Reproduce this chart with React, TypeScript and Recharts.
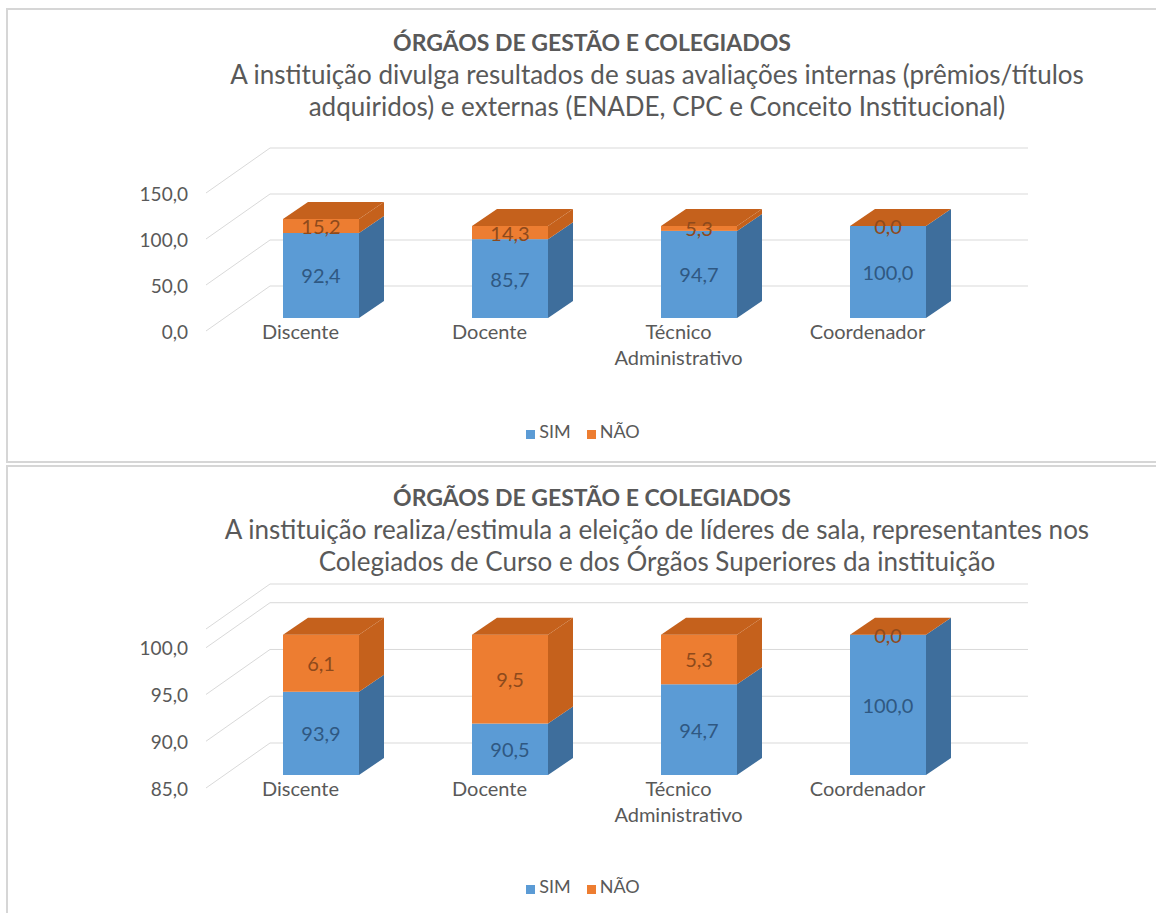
import React from 'react';
import { BarChart, Bar, XAxis, YAxis, Legend, CartesianGrid } from 'recharts';

const categories = ['Discente', 'Docente', 'Técnico Administrativo', 'Coordenador'];
const seriesNames = ['SIM', 'NÃO'];

const chart1Sim = [92.4, 85.7, 94.7, 100.0];
const chart1Nao = [15.2, 14.3, 5.3, 0.0];
const chart1Ticks = [0, 50, 100, 150];
const chart1Domain = [0, 150];

const chart2Sim = [93.9, 90.5, 94.7, 100.0];
const chart2Nao = [6.1, 9.5, 5.3, 0.0];
const chart2Ticks = [85, 90, 95, 100];
const chart2Domain = [85, 102];

const titleText = 'ÓRGÃOS DE GESTÃO E COLEGIADOS';
const subtitle1 = [
  'A instituição divulga resultados de suas avaliações internas (prêmios/títulos',
  'adquiridos) e externas (ENADE, CPC e Conceito Institucional)',
];
const subtitle2 = [
  'A instituição realiza/estimula a eleição de líderes de sala, representantes nos',
  'Colegiados de Curso e dos Órgãos Superiores da instituição',
];

const FONT = 'Lato, "Open Sans", sans-serif';
const GRAY = '#595959';
const GRID = '#d9d9d9';
const DX = 25;
const DY = -17;
const FRONT_DX = -20;
const FRONT_DY = 13;
const BACK_DX = 44;
const BACK_DY = -32;

const CHART_W = 1156;
const MARGIN = { left: 166, right: 174 };
const YAXIS_W = 60;

const fmt = (v: number) => v.toFixed(1).replace('.', ',');

function buildData(sim: number[], nao: number[]) {
  return categories.map((c, i) => ({ name: c, SIM: sim[i], NAO: nao[i] }));
}

function make3DShape(dataKey: string, front: string, dark: string, labelColor: string, drawTop: boolean) {
  return (props: any) => {
    const { x, y, width, height, background, payload } = props;
    if (x == null || y == null) return null;
    const top = Math.min(y, y + height);
    let bottom = Math.max(y, y + height);
    if (background && background.height) {
      bottom = Math.min(bottom, background.y + background.height);
    }
    const h = Math.max(0, bottom - top);
    const w = width;
    const val = payload ? payload[dataKey] : undefined;
    return (
      <g>
        <polygon
          points={`${x + w},${top} ${x + w + DX},${top + DY} ${x + w + DX},${bottom + DY} ${x + w},${bottom}`}
          fill={dark}
        />
        <rect x={x} y={top} width={w} height={h} fill={front} />
        {drawTop && (
          <polygon
            points={`${x},${top} ${x + DX},${top + DY} ${x + w + DX},${top + DY} ${x + w},${top}`}
            fill={dark}
          />
        )}
        {val != null && (
          <text
            x={x + w / 2}
            y={top + h / 2}
            textAnchor="middle"
            dominantBaseline="central"
            fontFamily={FONT}
            fontSize={20}
            fill={labelColor}
          >
            {fmt(val)}
          </text>
        )}
      </g>
    );
  };
}

const simShape = make3DShape('SIM', '#5B9BD5', '#3E6E9C', '#2F5882', false);
const naoShape = make3DShape('NAO', '#ED7D31', '#C5611C', '#8E4A1C', true);

const gridLine = (props: any) => {
  const { x1, y1, x2 } = props;
  return (
    <g key={`g-${y1}`}>
      <line x1={x1 + FRONT_DX} y1={y1 + FRONT_DY} x2={x1 + BACK_DX} y2={y1 + BACK_DY} stroke={GRID} strokeWidth={1} />
      <line x1={x1 + BACK_DX} y1={y1 + BACK_DY} x2={x2 + BACK_DX + 2} y2={y1 + BACK_DY} stroke={GRID} strokeWidth={1} />
    </g>
  );
};

const YTick = (props: any) => {
  const { x, y, payload } = props;
  return (
    <text
      x={x - 38}
      y={y + FRONT_DY}
      textAnchor="end"
      dominantBaseline="central"
      fontFamily={FONT}
      fontSize={19}
      fill={GRAY}
    >
      {fmt(payload.value)}
    </text>
  );
};

const XTick = (props: any) => {
  const { x, y, payload } = props;
  const lines = String(payload.value).split(' ');
  return (
    <g>
      {lines.map((l, i) => (
        <text
          key={i}
          x={x + FRONT_DX}
          y={y + FRONT_DY + i * 26}
          textAnchor="middle"
          dominantBaseline="central"
          fontFamily={FONT}
          fontSize={20}
          fill={GRAY}
        >
          {l}
        </text>
      ))}
    </g>
  );
};

const legendFormatter = (value: string) => (
  <span style={{ color: GRAY, fontSize: 18, fontFamily: FONT, marginRight: 6 }}>{value}</span>
);

const legendSorter = (item: any) => seriesNames.indexOf(item.value);

function Chart3D(props: {
  sim: number[];
  nao: number[];
  ticks: number[];
  domain: number[];
  top: number;
  marginTop: number;
  marginBottom: number;
  overflow: boolean;
  legendTop: number;
}) {
  const data = buildData(props.sim, props.nao);
  return (
    <div style={{ position: 'absolute', left: 0, top: props.top }}>
      <BarChart
        width={CHART_W}
        height={340}
        data={data}
        margin={{ top: props.marginTop, right: MARGIN.right, left: MARGIN.left, bottom: props.marginBottom }}
      >
        <CartesianGrid vertical={false} horizontal={gridLine as any} />
        <XAxis
          dataKey="name"
          height={50}
          axisLine={false}
          tickLine={false}
          tickSize={0}
          tickMargin={0}
          interval={0}
          tick={<XTick />}
        />
        <YAxis
          width={YAXIS_W}
          domain={props.domain}
          ticks={props.ticks}
          allowDataOverflow={props.overflow}
          axisLine={false}
          tickLine={false}
          tickSize={0}
          tickMargin={0}
          tick={<YTick />}
        />
        <Legend
          verticalAlign="middle"
          align="center"
          layout="horizontal"
          iconType="square"
          iconSize={9}
          itemSorter={legendSorter as any}
          formatter={legendFormatter}
          wrapperStyle={{ top: props.legendTop, left: 0, width: 1182 }}
        />
        <Bar dataKey="SIM" name={seriesNames[0]} stackId="a" fill="#5B9BD5" barSize={76} isAnimationActive={false} shape={simShape} />
        <Bar dataKey="NAO" name={seriesNames[1]} stackId="a" fill="#ED7D31" barSize={76} isAnimationActive={false} shape={naoShape} />
      </BarChart>
    </div>
  );
}

function Titles(props: { top: number; lines: string[] }) {
  return (
    <>
      <div
        style={{
          position: 'absolute', left: 592 - 500, width: 1000, top: props.top, textAlign: 'center',
          fontFamily: FONT, fontWeight: 700, fontSize: 23, color: GRAY, lineHeight: '26px', whiteSpace: 'nowrap',
        }}
      >
        {titleText}
      </div>
      {props.lines.map((l, i) => (
        <div
          key={i}
          style={{
            position: 'absolute', left: 657 - 550, width: 1100, top: props.top + 32 + i * 32, textAlign: 'center',
            fontFamily: FONT, fontSize: 26, color: GRAY, lineHeight: '26px', whiteSpace: 'nowrap',
          }}
        >
          {l}
        </div>
      ))}
    </>
  );
}

export default function App() {
  return (
    <div style={{ position: 'absolute', left: 0, top: 0, width: 1156, height: 913, overflow: 'hidden', background: '#fff' }}>
      <div style={{ position: 'absolute', left: 6, top: 8, width: 1160, height: 455, boxSizing: 'border-box', border: '2px solid #d6d6d6' }} />
      <div style={{ position: 'absolute', left: 6, top: 465, width: 1160, height: 460, boxSizing: 'border-box', border: '2px solid #d6d6d6' }} />
      <Titles top={29} lines={subtitle1} />
      <Titles top={484} lines={subtitle2} />
      <Chart3D sim={chart1Sim} nao={chart1Nao} ticks={chart1Ticks} domain={chart1Domain} top={120} marginTop={60} marginBottom={92} overflow={false} legendTop={300} />
      <Chart3D sim={chart2Sim} nao={chart2Nao} ticks={chart2Ticks} domain={chart2Domain} top={575} marginTop={41} marginBottom={90} overflow={true} legendTop={300} />
    </div>
  );
}
